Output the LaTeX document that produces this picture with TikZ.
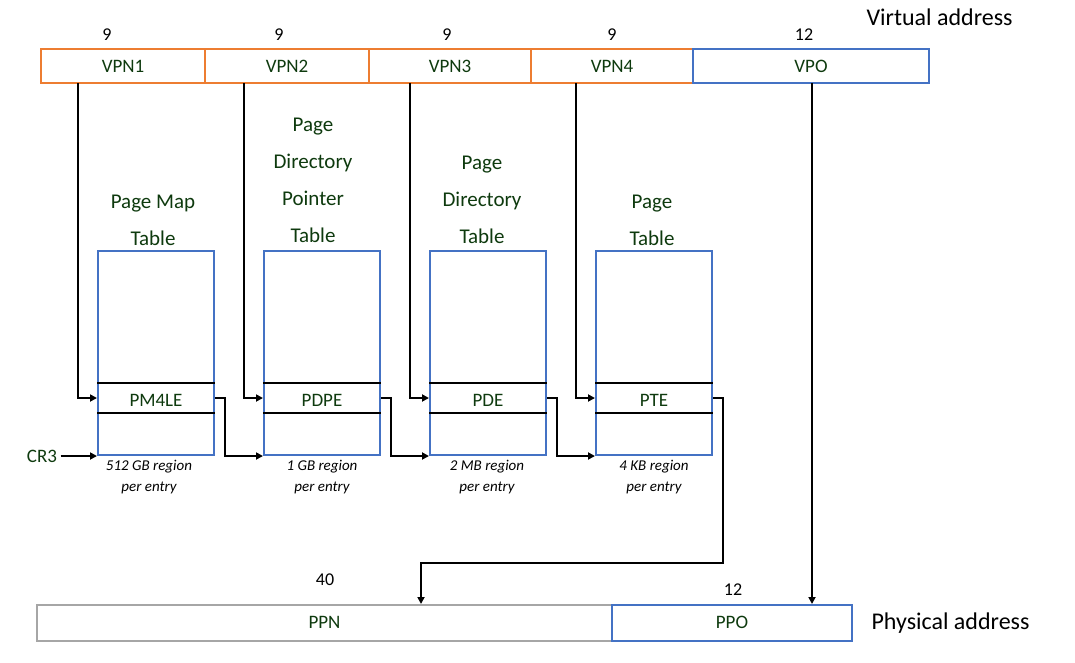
\documentclass[tikz,border=0pt]{standalone}
\usepackage{fontspec}
\setmainfont{Carlito}
\usetikzlibrary{arrows.meta}
\definecolor{og}{HTML}{ED7D31}
\definecolor{bl}{HTML}{4472C4}
\definecolor{gr}{HTML}{A6A6A6}
\definecolor{tg}{HTML}{0E3A0E}
\begin{document}
\begin{tikzpicture}[x=1pt,y=-1pt,
 fld/.style={draw=#1,line width=2pt,minimum height=34pt,inner sep=0pt,font=\fontsize{19}{19}\selectfont,text=tg},
 tbl/.style={draw=bl,line width=2pt,minimum width=116pt,minimum height=204pt,inner sep=0pt},
 ttl/.style={align=center,font=\fontsize{21}{37}\selectfont,text=tg},
 reg/.style={align=center,font=\fontsize{15}{21}\selectfont\itshape},
 num/.style={font=\fontsize{18}{18}\selectfont},
 arr/.style={line width=2pt,-{Triangle[length=7pt,width=7pt]}},
 ln/.style={line width=2pt}]
\useasboundingbox (0,0) rectangle (1075,663);
\node[fld=og,minimum width=164pt] (v1) at (123,66) {VPN1};
\node[fld=og,minimum width=164pt] (v2) at (287,66) {VPN2};
\node[fld=og,minimum width=162pt] (v3) at (450,66) {VPN3};
\node[fld=og,minimum width=162pt] (v4) at (612,66) {VPN4};
\node[fld=bl,minimum width=236pt] (vo) at (811,66) {VPO};
\foreach \x/\t [count=\i] in {107/9,279/9,447/9,612/9,804/12} \node[num] (n\i) at (\x,35) {\t};
\node[font=\fontsize{24}{24}\selectfont,anchor=west] (va) at (863,17) {Virtual address};
\foreach \x/\e [count=\i] in {156/PM4LE,322/PDPE,488/PDE,654/PTE}{
 \node[tbl] (t\i) at (\x,353) {};
 \draw[ln] (t\i.west|-0,383) -- (t\i.east|-0,383);
 \draw[ln] (t\i.west|-0,413) -- (t\i.east|-0,413);
 \node[font=\fontsize{19}{19}\selectfont,text=tg] (e\i) at (\x,400) {\e};
}
\node[ttl] (h1) at (153,220) {Page Map\\Table};
\node[ttl] (h2) at (313,180) {Page\\Directory\\Pointer\\Table};
\node[ttl] (h3) at (482,200) {Page\\Directory\\Table};
\node[ttl] (h4) at (652,220) {Page\\Table};
\node[reg] (r1) at (149,477) {512 GB region\\per entry};
\node[reg] (r2) at (322,477) {1 GB region\\per entry};
\node[reg] (r3) at (487,477) {2 MB region\\per entry};
\node[reg] (r4) at (654,477) {4 KB region\\per entry};
\node[font=\fontsize{19}{19}\selectfont,text=tg] (cr) at (42,456) {CR3};
\draw[arr] (cr.east) -- (t1.west|-cr.east);
\draw[arr] (78,83) |- (t1.west|-0,398);
\draw[arr] (244,83) |- (t2.west|-0,398);
\draw[arr] (410,83) |- (t3.west|-0,398);
\draw[arr] (576,83) |- (t4.west|-0,398);
\draw[arr] (t1.east|-0,398) -- (225,398) |- (t2.south west);
\draw[arr] (t2.east|-0,398) -- (391,398) |- (t3.south west);
\draw[arr] (t3.east|-0,398) -- (557,398) |- (t4.south west);
\node[draw=gr,line width=2pt,minimum width=575pt,minimum height=36pt,inner sep=0pt,font=\fontsize{19}{19}\selectfont,text=tg] (ppn) at (324.5,622.5) {PPN};
\node[fld=bl,minimum width=240pt,minimum height=36pt] (ppo) at (732,622.5) {PPO};
\coordinate (pin) at (421,604);
\draw[arr] (t4.east|-0,398) -- (723,398) -- (723,563) -- (421,563) -- (pin);
\draw[arr] (812,83) -- (812,604);
\node[num] (n40) at (325,580) {40};
\node[num] (n12) at (733,590) {12};
\node[font=\fontsize{24}{24}\selectfont,anchor=west] (pa) at (868,623) {Physical address};
\end{tikzpicture}
\end{document}
